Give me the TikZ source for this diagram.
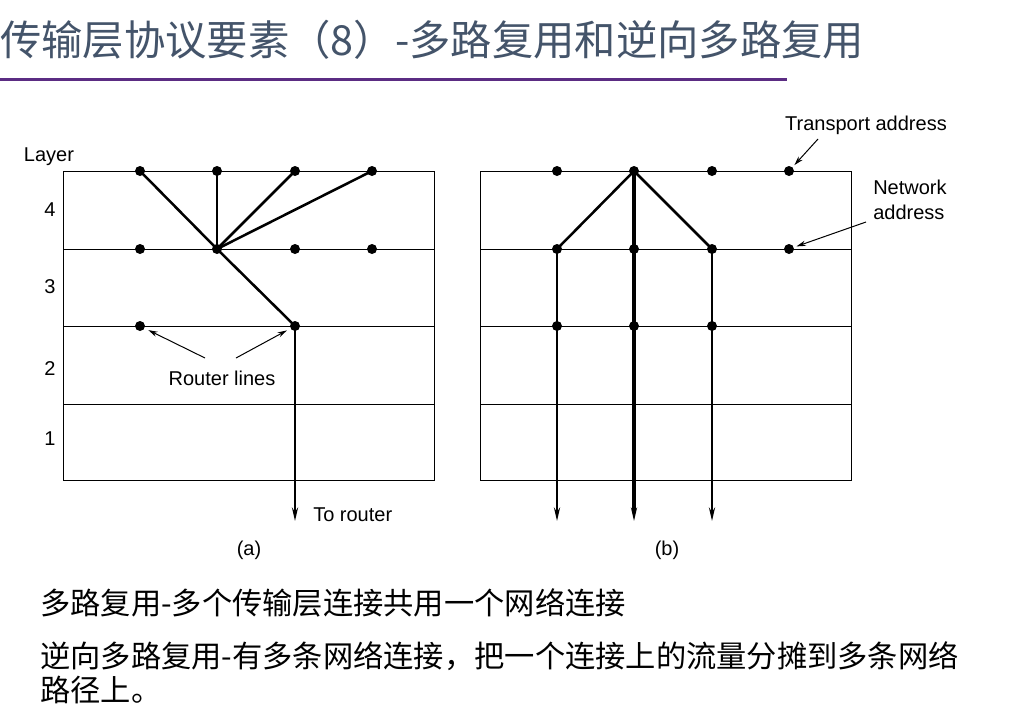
\documentclass[tikz,border=0pt]{standalone}
\usepackage{fontspec}
\setmainfont{Liberation Sans}
\newfontfamily\cjk{Noto Sans CJK SC}
\usetikzlibrary{arrows.meta}
\definecolor{titlegray}{HTML}{44546A}
\definecolor{rulepurple}{HTML}{5B2C83}
\begin{document}
\begin{tikzpicture}[x=0.75pt,y=-0.75pt,
  dot/.style={circle,fill=black,inner sep=0pt,minimum size=7.5pt},
  grid/.style={line width=0.75pt},
  conn/.style={line width=1.9pt},
  fatconn/.style={line width=2.6pt},
  downarrow/.style={-{Stealth[length=10pt,width=4.5pt]}},
  note/.style={line width=0.75pt,-{Stealth[length=7pt,width=4pt]}},
  lbl/.style={font=\fontsize{15pt}{18pt}\selectfont,inner sep=0pt},
  title/.style={font=\cjk\fontsize{31pt}{37pt}\selectfont,text=titlegray,inner sep=0pt,anchor=west},
  body/.style={font=\cjk\fontsize{22.7pt}{27pt}\selectfont,text=black,inner sep=0pt,anchor=west}]
\useasboundingbox (0,0) rectangle (1012,711);
\fill[white] (0,0) rectangle (1012,711);

% title
\node[title] (ttl) at (0,40) {传输层协议要素（8）-多路复用和逆向多路复用};
\draw[rulepurple,line width=2.25pt] (0,79) -- (787,79);

% grids
\draw[grid] (63,171) rectangle (434,480);
\draw[grid] (63,249) -- (434,249) (63,326) -- (434,326) (63,404) -- (434,404);
\draw[grid] (480,171) rectangle (851,480);
\draw[grid] (480,249) -- (851,249) (480,326) -- (851,326) (480,404) -- (851,404);

% layer labels
\node[lbl] (layer) at (49,157) {Layer};
\node[lbl] (l4) at (50,210) {4};
\node[lbl] (l3) at (50,287) {3};
\node[lbl] (l2) at (50,369) {2};
\node[lbl] (l1) at (50,439) {1};

% dots (a)
\node[dot] (a41) at (140,171) {};
\node[dot] (a42) at (217,171) {};
\node[dot] (a43) at (295,171) {};
\node[dot] (a44) at (372,171) {};
\node[dot] (a31) at (140,249) {};
\node[dot] (a32) at (217,249) {};
\node[dot] (a33) at (295,249) {};
\node[dot] (a34) at (372,249) {};
\node[dot] (a21) at (140,326) {};
\node[dot] (a23) at (295,326) {};
\coordinate (aend) at (295,521);

\draw[conn] (a41.center) -- (a32.center);
\draw[conn] (a42.center) -- (a32.center);
\draw[conn] (a43.center) -- (a32.center);
\draw[conn] (a44.center) -- (a32.center);
\draw[conn] (a32.center) -- (a23.center);
\draw[conn,downarrow] (a23.center) -- (aend);

\node[lbl] (rl) at (222,378) {Router lines};
\coordinate (rl1) at (205,358);
\coordinate (rl2) at (236,358);
\draw[note,shorten >=3pt] (rl1) -- (a21);
\draw[note,shorten >=3pt] (rl2) -- (a23);
\node[lbl,anchor=west] (tr) at (313,515) {To router};
\node[lbl] (capa) at (249,550) {(a)};

% dots (b)
\node[dot] (b41) at (557,171) {};
\node[dot] (b42) at (634,171) {};
\node[dot] (b43) at (712,171) {};
\node[dot] (b44) at (789,171) {};
\node[dot] (b31) at (557,249) {};
\node[dot] (b32) at (634,249) {};
\node[dot] (b33) at (712,249) {};
\node[dot] (b34) at (789,249) {};
\node[dot] (b21) at (557,326) {};
\node[dot] (b22) at (634,326) {};
\node[dot] (b23) at (712,326) {};
\coordinate (bend1) at (557,521);
\coordinate (bend2) at (634,521);
\coordinate (bend3) at (712,521);

\draw[conn] (b42.center) -- (b31.center);
\draw[conn] (b42.center) -- (b33.center);
\draw[fatconn,downarrow] (b42.center) -- (bend2);
\draw[conn,downarrow] (b31.center) -- (bend1);
\draw[conn,downarrow] (b33.center) -- (bend3);

\node[lbl] (ta) at (866,125) {Transport address};
\coordinate (ta1) at (818,139);
\draw[note,shorten >=2pt] (ta1) -- (b44);
\node[lbl,align=left,anchor=west,font=\fontsize{15pt}{18.75pt}\selectfont] (na) at (873,200) {Network\\address};
\coordinate (na1) at (866,222);
\draw[note,shorten >=2pt] (na1) -- (b34);
\node[lbl] (capb) at (667,550) {(b)};

% body text
\node[body] (t1) at (40,603) {多路复用-多个传输层连接共用一个网络连接};
\node[body] (t2) at (40,656) {逆向多路复用-有多条网络连接，把一个连接上的流量分摊到多条网络};
\node[body] (t3) at (40,690) {路径上。};
\end{tikzpicture}
\end{document}
